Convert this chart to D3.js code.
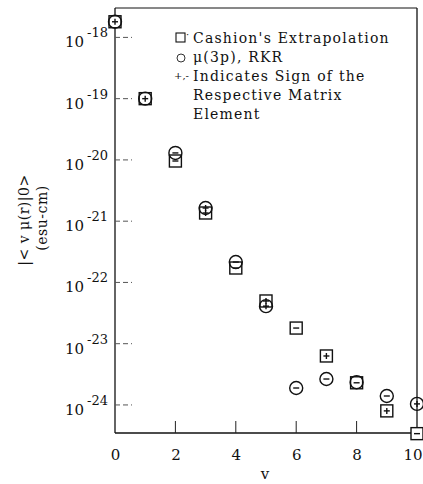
<!DOCTYPE html>
<html>
<head>
<meta charset="utf-8">
<script src="https://cdn.jsdelivr.net/npm/d3@7"></script>
<style>
  html, body { margin: 0; padding: 0; background: #fff; }
  svg { display: block; }
  text { font-family: "DejaVu Serif", "Liberation Serif", serif; fill: #111; }
</style>
</head>
<body>
<svg id="chart" width="423" height="484"></svg>
<script>
// Vibrational quantum number v
const levels = [0, 1, 2, 3, 4, 5, 6, 7, 8, 9, 10];
// |<v|mu(r)|0>| in esu-cm, Cashion's extrapolation (squares)
const cashion = [1.8e-18, 1.0e-19, 9.6e-21, 1.36e-21, 1.72e-22, 4.98e-23, 1.8e-23, 6.3e-24, 2.3e-24, 8.0e-25, 3.4e-25];
// |<v|mu(r)|0>| in esu-cm, mu(3p) with RKR potential (circles)
const rkr = [1.8e-18, 1.0e-19, 1.3e-20, 1.64e-21, 2.15e-22, 4.1e-23, 1.89e-24, 2.65e-24, 2.35e-24, 1.4e-24, 1.04e-24];
// sign of each matrix element
const cashionSign = ["+", "+", "-", "+", "-", "+", "-", "+", "-", "+", "-"];
const rkrSign = ["+", "+", "-", "+", "-", "+", "-", "-", "+", "-", "+"];
// axis ticks
const xTicks = [0, 2, 4, 6, 8, 10];
const yExponents = [-18, -19, -20, -21, -22, -23, -24];
const legendLines = ["Cashion's Extrapolation", "\u03bc(3p), RKR", "Indicates Sign of the", "Respective Matrix", "Element"];

const svg = d3.select("#chart");
const plotL = 115, plotR = 417, plotT = 8, plotB = 433;

const x = d3.scaleLinear().domain([0, 10]).range([plotL, plotR]);
const y = d3.scaleLog().domain([Math.pow(10, -24.458), Math.pow(10, -17.52)]).range([plotB, plotT]);

// frame
const frame = svg.append("g").attr("fill", "none").attr("stroke", "#111").attr("stroke-width", 1.3);
frame.append("line").attr("x1", plotL).attr("x2", plotR).attr("y1", plotB).attr("y2", plotB);
frame.append("line").attr("x1", plotL).attr("x2", plotL).attr("y1", plotT).attr("y2", plotB);
frame.append("line").attr("x1", plotL).attr("x2", plotR).attr("y1", plotT).attr("y2", plotT).attr("stroke-width", 1);
frame.append("line").attr("x1", plotR).attr("x2", plotR).attr("y1", plotT).attr("y2", plotB);

// x axis: inward ticks, labels below
const xAxis = d3.axisBottom(x).tickValues(xTicks).tickSize(0).tickPadding(16).tickFormat(d3.format("d"));
const gx = svg.append("g").attr("transform", `translate(0,${plotB})`).call(xAxis);
gx.select(".domain").remove();
gx.selectAll("text").attr("font-size", 15).attr("font-family", "DejaVu Serif, serif").attr("fill", "#111")
  .attr("text-anchor", d => d === 10 ? "end" : "middle")
  .attr("dx", d => d === 10 ? 5 : 0);
svg.append("g").selectAll("line").data(xTicks.filter(d => d > 0 && d < 10)).join("line")
  .attr("x1", d => x(d)).attr("x2", d => x(d))
  .attr("y1", plotB).attr("y2", plotB - 12)
  .attr("stroke", "#222").attr("stroke-width", 1);

svg.append("text").attr("x", 265).attr("y", 479).attr("text-anchor", "middle")
  .attr("font-size", 15).text("v");

// y axis: dashed inward ticks, power-of-ten labels
const gy = svg.append("g");
gy.selectAll("line").data(yExponents).join("line")
  .attr("x1", plotL).attr("x2", plotL + 17)
  .attr("y1", d => y(Math.pow(10, d))).attr("y2", d => y(Math.pow(10, d)))
  .attr("stroke", "#555").attr("stroke-width", 1).attr("stroke-dasharray", "5,3");
const yl = gy.selectAll("text").data(yExponents).join("text")
  .attr("x", 108).attr("y", d => y(Math.pow(10, d)) + 10)
  .attr("text-anchor", "end").attr("font-size", 15);
yl.append("tspan").text("10");
yl.append("tspan").attr("dx", 3).attr("dy", -10).attr("font-size", 13)
  .text(d => "-" + Math.abs(d));

// y axis title
const yt = svg.append("g").attr("font-size", 14).attr("text-anchor", "middle");
yt.append("text").attr("transform", "translate(29,220) rotate(-90)").attr("letter-spacing", 0.5).text("|< v  \u03bc(r)|0>");
yt.append("text").attr("transform", "translate(47,218) rotate(-90)").attr("letter-spacing", 0.5).text("(esu-cm)");

// markers
const sq = 12, rad = 6.5;
const gs = svg.append("g");
levels.forEach((v, i) => {
  const cx = x(v);
  const ys = y(cashion[i]);
  const yc = y(rkr[i]);
  gs.append("rect").attr("x", cx - sq / 2).attr("y", ys - sq / 2).attr("width", sq).attr("height", sq)
    .attr("fill", "#fff").attr("stroke", "#111").attr("stroke-width", 1.4);
  gs.append("circle").attr("cx", cx).attr("cy", yc).attr("r", rad)
    .attr("fill", "none").attr("stroke", "#111").attr("stroke-width", 1.4);
});
function sign(g, cx, cy, s) {
  g.append("line").attr("x1", cx - 3).attr("x2", cx + 3).attr("y1", cy).attr("y2", cy)
    .attr("stroke", "#111").attr("stroke-width", 1.4);
  if (s === "+") g.append("line").attr("x1", cx).attr("x2", cx).attr("y1", cy - 3).attr("y2", cy + 3)
    .attr("stroke", "#111").attr("stroke-width", 1.4);
}
levels.forEach((v, i) => {
  sign(gs, x(v), y(cashion[i]), cashionSign[i]);
  if (Math.abs(y(rkr[i]) - y(cashion[i])) > 2) sign(gs, x(v), y(rkr[i]), rkrSign[i]);
});

// legend
const lg = svg.append("g").attr("font-size", 14);
const lx = 193, ly0 = 43, ldy = 19;
lg.selectAll("text").data(legendLines).join("text")
  .attr("x", lx).attr("y", (d, i) => ly0 + i * ldy).attr("letter-spacing", 1.2).text(d => d);
lg.append("rect").attr("x", 176).attr("y", 33).attr("width", 9).attr("height", 9)
  .attr("fill", "none").attr("stroke", "#111").attr("stroke-width", 1.1);
lg.append("text").attr("x", 186).attr("y", 38).attr("font-size", 10).text("\u00b7");
lg.append("circle").attr("cx", 181).attr("cy", 58).attr("r", 4)
  .attr("fill", "none").attr("stroke", "#333").attr("stroke-width", 1);
lg.append("text").attr("x", 189).attr("y", 79).attr("text-anchor", "end").attr("font-size", 10).text("+,-");
</script>
</body>
</html>
